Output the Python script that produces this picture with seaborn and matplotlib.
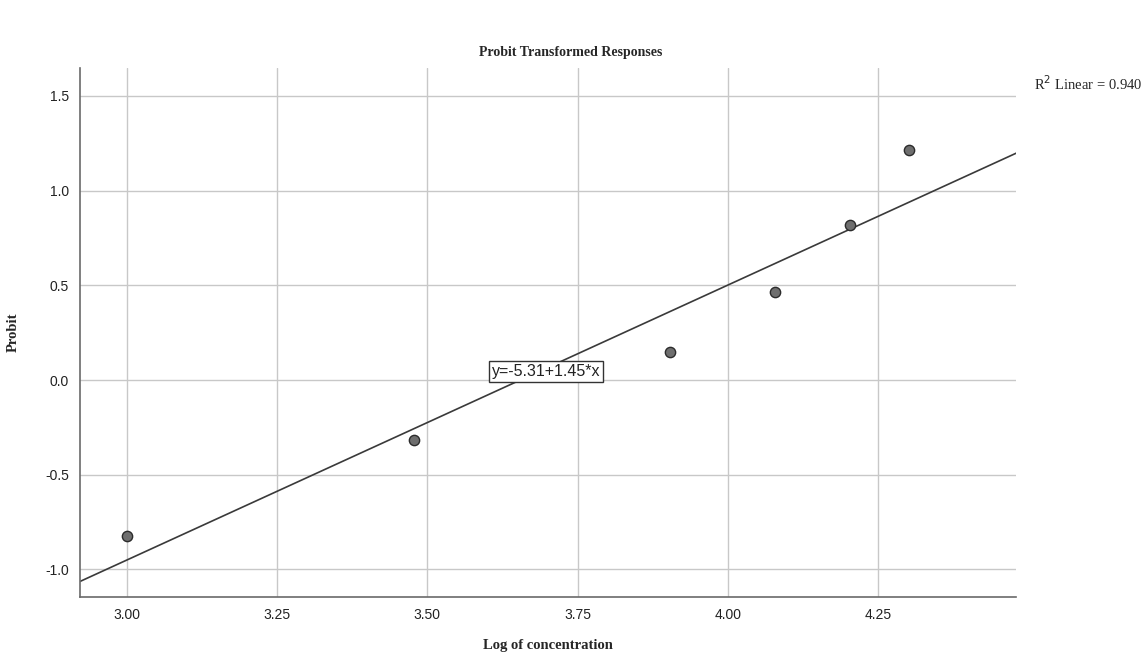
import numpy as np
import matplotlib
matplotlib.use("Agg")
import matplotlib.pyplot as plt
import seaborn as sns
import pandas as pd

# datos: log10 de la concentración y probit observado
log_conc = [3.000, 3.477, 3.903, 4.079, 4.204, 4.301]
probit = [-0.824, -0.317, 0.148, 0.465, 0.818, 1.214]
x_ticks = [3.00, 3.25, 3.50, 3.75, 4.00, 4.25]
y_ticks = [-1.0, -0.5, 0.0, 0.5, 1.0, 1.5]
r2_texto = "0.940"

df = pd.DataFrame({"x": log_conc, "y": probit})

sns.set_style("whitegrid")
plt.rcParams["font.family"] = ["Liberation Sans", "DejaVu Sans"]

fig = plt.figure(figsize=(11.42, 6.55), dpi=100)
ax = fig.add_axes([0.070, 0.0885, 0.820, 0.8075])

ax.set_xlim(2.922, 4.48)
ax.set_ylim(-1.146, 1.647)

# linea de ajuste
sns.regplot(data=df, x="x", y="y", ax=ax, scatter=False, ci=None,
            truncate=False, line_kws={"color": "#3a3a3a", "linewidth": 1.2})
sns.scatterplot(data=df, x="x", y="y", ax=ax, color="#6e6e6e",
                edgecolor="#2b2b2b", linewidth=1.0, s=55, zorder=5)

pend, inter = np.polyfit(log_conc, probit, 1)

ax.set_xticks(x_ticks)
ax.set_xticklabels([f"{v:.2f}" for v in x_ticks])
ax.set_yticks(y_ticks)
ax.set_yticklabels([f"{v:.1f}" for v in y_ticks])
ax.tick_params(axis="both", labelsize=10, length=0, colors="#222222", pad=8)

ax.grid(True, color="#c8c8c8", linewidth=1.0)
for s in ["top", "right"]:
    ax.spines[s].set_visible(False)
for s in ["left", "bottom"]:
    ax.spines[s].set_color("#6a6a6a")
    ax.spines[s].set_linewidth(1.2)

ax.set_xlabel("Log of concentration", family="Liberation Serif",
              fontweight="bold", fontsize=10.5, labelpad=12)
ax.set_ylabel("Probit", family="Liberation Serif", fontweight="bold",
              fontsize=10.5, labelpad=18)

ax.text(3.607, 0.045, f"y={inter:.2f}+{pend:.2f}*x", fontsize=11.5,
        ha="left", va="center", color="#222222",
        bbox=dict(boxstyle="square,pad=0.18", fc="white", ec="#333333", lw=1.0),
        zorder=6)

fig.text(0.5, 0.92, "Probit Transformed Responses", family="Liberation Serif",
         fontweight="bold", fontsize=10, ha="center", va="center")
fig.text(0.905, 0.872, f"R$^2$ Linear = {r2_texto}", family="Liberation Serif",
         fontsize=10.5, ha="left", va="center")

plt.savefig("out.png", dpi=100)
